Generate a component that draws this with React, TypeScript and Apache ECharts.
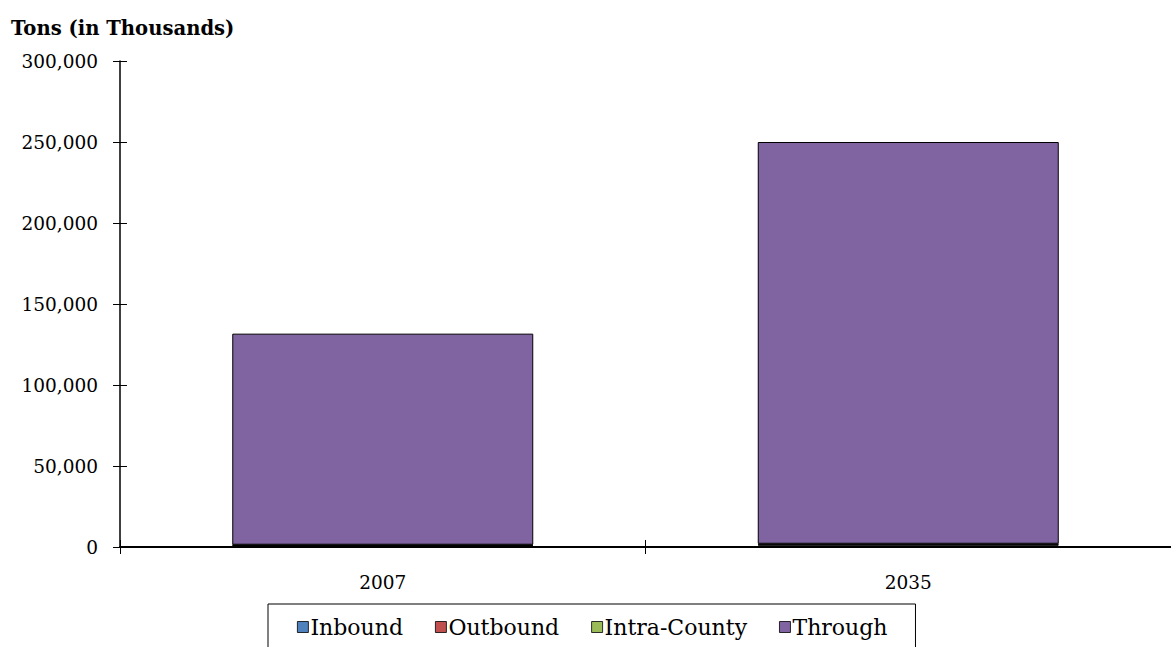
import React, { useEffect, useRef } from "react";
import * as echarts from "echarts";

const categories = ["2007", "2035"];
const inbound = [600, 900];
const outbound = [500, 700];
const intraCounty = [300, 400];
const through = [130300, 248000];
const seriesNames = ["Inbound", "Outbound", "Intra-County", "Through"];
const seriesColors = ["#4F81BD", "#C0504D", "#9BBB59", "#8064A2"];
const yTicks = { min: 0, max: 300000, interval: 50000 };

const FONT = "DejaVu Serif";

export default function App() {
  const ref = useRef<HTMLDivElement>(null);
  useEffect(() => {
    if (!ref.current) return;
    const chart = echarts.init(ref.current, null, { renderer: "svg" });
    const data = [inbound, outbound, intraCounty, through];
    chart.setOption({
      animation: false,
      textStyle: { fontFamily: FONT },
      title: {
        text: "Tons (in Thousands)",
        left: 6,
        top: 13,
        textStyle: { fontFamily: FONT, fontSize: 19.6, fontWeight: "bold", color: "#000" },
      },
      legend: {
        data: seriesNames,
        left: 268,
        top: 604,
        orient: "horizontal",
        icon: "rect",
        itemWidth: 11,
        itemHeight: 11,
        itemGap: 32,
        borderColor: "#000",
        borderWidth: 1,
        padding: [12, 28, 30, 29],
        textStyle: { fontFamily: FONT, fontSize: 22, color: "#000", padding: [0, 0, 0, -3] },
        itemStyle: { borderColor: "#000", borderWidth: 0.8 },
      },
      grid: { left: 120, top: 61, width: 1053, bottom: 100, containLabel: false },
      xAxis: [
        {
          type: "category",
          data: categories,
          axisLine: { lineStyle: { color: "#000", width: 2 } },
          axisTick: { show: true, length: 7, lineStyle: { color: "#000", width: 1 } },
          axisLabel: { color: "#000", fontSize: 18.5, fontFamily: FONT, margin: 26 },
        },
        {
          type: "category",
          data: categories,
          position: "bottom",
          axisLine: { show: false },
          axisTick: { show: true, inside: true, length: 7, lineStyle: { color: "#000", width: 1 } },
          axisLabel: { show: false },
        },
      ],
      yAxis: [
        {
          type: "value",
          min: yTicks.min,
          max: yTicks.max,
          interval: yTicks.interval,
          axisLine: { show: true, lineStyle: { color: "#000", width: 1.5 } },
          axisTick: { show: true, length: 7, lineStyle: { color: "#000", width: 1 } },
          splitLine: { show: false },
          axisLabel: {
            color: "#000",
            fontSize: 18.5,
            fontFamily: FONT,
            margin: 22,
            formatter: (v: number) => v.toLocaleString("en-US"),
          },
        },
        {
          type: "value",
          position: "left",
          min: yTicks.min,
          max: yTicks.max,
          interval: yTicks.interval,
          axisLine: { show: false },
          axisTick: { show: true, inside: true, length: 7, lineStyle: { color: "#000", width: 1 } },
          splitLine: { show: false },
          axisLabel: { show: false },
        },
      ],
      series: seriesNames.map((name, i) => ({
        name,
        type: "bar",
        stack: "total",
        data: data[i],
        barWidth: 301,
        xAxisIndex: 0,
        yAxisIndex: 0,
        itemStyle: { color: seriesColors[i], borderColor: "#000", borderWidth: 1 },
      })),
    });
    return () => chart.dispose();
  }, []);
  return <div ref={ref} style={{ width: 1171, height: 647, position: "absolute", left: 0, top: 0 }} />;
}
